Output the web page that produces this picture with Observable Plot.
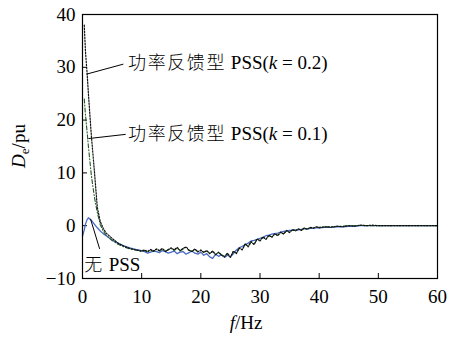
<!DOCTYPE html>
<html><head><meta charset="utf-8">
<script src="https://cdn.jsdelivr.net/npm/d3@7"></script>
<script src="https://cdn.jsdelivr.net/npm/@observablehq/plot@0.6"></script>
<style>body{margin:0;background:#fff}</style>
</head><body><div id="chart"></div>
<script>
const freq = [0,0.3,0.5,0.8,1,1.5,2,2.5,3,3.5,4,5,6,7,8,9,
10,10.5,11,11.5,12,12.5,13,13.5,14,14.5,15,15.5,16,16.5,17,17.5,18,18.5,19,19.5,
20,20.5,21,21.5,22,22.5,23,23.5,24,24.5,25,25.5,26,26.5,27,27.5,28,28.5,29,29.5,
30,30.5,31,31.5,32,32.5,33,33.5,34,34.5,35,35.5,36,36.5,37,37.5,38,38.5,39,39.5,
40,41,42,43,44,45,46,47,48,49,50,51,52,53,54,55,56,57,58,59,60];
const noPSS = [-2.0,-0.8,0.3,1.2,1.5,1.0,0.3,-0.4,-1.0,-1.5,-1.9,-2.7,-3.3,-3.8,-4.2,-4.5,
-4.7,-4.9,-5.2,-5.0,-4.8,-4.9,-5.1,-4.7,-4.9,-5.2,-5.0,-4.8,-5.3,-5.0,-4.9,-5.4,-5.1,-4.8,-5.2,-5.4,
-5.0,-5.6,-5.3,-5.9,-6.2,-5.4,-5.8,-5.5,-6.0,-5.6,-5.9,-5.3,-4.6,-4.2,-3.9,-3.6,-3.3,-2.9,-2.8,-2.6,
-2.4,-2.2,-1.9,-1.8,-1.6,-1.5,-1.4,-1.2,-1.1,-1.0,-0.9,-0.9,-0.8,-0.8,-0.7,-0.6,-0.6,-0.5,-0.5,-0.4,
-0.4,-0.3,-0.3,-0.2,-0.2,-0.1,-0.1,0,0,0,0,0,0,0,0,0,0,0,0,0,0];
const pssK01 = [null,24,21,17.5,15,9.5,5.5,2.5,0.2,-1.0,-1.8,-2.8,-3.5,-4.0,-4.4,-4.6,
-4.9,-4.7,-5.0,-4.6,-4.9,-4.5,-4.8,-4.4,-4.8,-4.6,-4.3,-4.7,-4.2,-4.8,-4.4,-4.1,-4.7,-4.8,-4.5,-4.9,
-4.7,-5.0,-4.8,-5.2,-4.9,-5.4,-5.1,-5.5,-5.8,-5.3,-5.9,-4.9,-5.2,-4.3,-4.5,-3.5,-3.9,-3.1,-3.5,-2.6,
-2.8,-2.2,-2.5,-1.9,-2.1,-1.6,-1.8,-1.3,-1.5,-1.0,-1.2,-0.8,-0.9,-0.7,-0.8,-0.5,-0.6,-0.4,-0.4,-0.3,
-0.3,-0.2,-0.2,-0.1,-0.1,0,0,0.1,0,0,0,0,0,0,0,0,0,0,0,0,0];
const pssK02 = [null,38,33,28.5,25,17,10.5,3.5,0.8,-0.5,-1.4,-2.4,-3.3,-3.9,-4.3,-4.6,
-4.8,-4.6,-4.9,-4.5,-4.8,-4.4,-4.7,-4.3,-4.9,-4.5,-4.2,-4.6,-4.1,-4.7,-4.3,-4.0,-4.6,-4.9,-4.4,-5.0,
-4.6,-5.1,-4.7,-5.3,-4.8,-5.5,-5.0,-5.6,-5.9,-5.2,-6.0,-4.8,-5.3,-4.2,-4.6,-3.4,-4.0,-3.0,-3.6,-2.5,
-2.9,-2.1,-2.6,-1.8,-2.2,-1.5,-1.9,-1.2,-1.6,-0.9,-1.3,-0.7,-1.0,-0.6,-0.9,-0.4,-0.7,-0.3,-0.5,-0.2,
-0.4,-0.2,-0.3,-0.1,-0.2,0,-0.1,0.1,0,0.1,0,0,0,0,0,0,0,0,0,0,0];
const xTicks = [0,10,20,30,40,50,60];
const yTicks = [-10,0,10,20,30,40];
const annLabels = ["功率反馈型 PSS(k = 0.2)", "功率反馈型 PSS(k = 0.1)", "无 PSS"];
const annTextX = [7.7, 7.7, 0.3];
const annTextY = [30.9, 17.4, -7.5];
const annFromX = [0.68, 1.0, 1.35];
const annFromY = [28.7, 16.5, 1.3];
const annToX = [6.9, 7.3, 2.9];
const annToY = [30.6, 17.3, -4.4];

const rows = (vals) => freq.map((f, i) => ({f, v: vals[i]})).filter(d => d.v !== null);
const ann = annLabels.map((t, i) => ({t, tx: annTextX[i], ty: annTextY[i], x1: annFromX[i], y1: annFromY[i], x2: annToX[i], y2: annToY[i]}));

const latin = "'Liberation Serif', serif";
const cjk = "'Noto Sans CJK SC', sans-serif";
const font = "'Liberation Serif','Noto Sans CJK SC',serif";
const plot = Plot.plot({
  width: 449, height: 338,
  marginLeft: 82, marginRight: 12, marginTop: 14, marginBottom: 60,
  style: {fontFamily: font, fontSize: "18px", color: "black", background: "white"},
  x: {domain: [0, 60]},
  y: {domain: [-10, 40]},
  marks: [
    Plot.axisX({ticks: xTicks, tickSize: -5, tickPadding: 16, label: null, fontSize: 19}),
    Plot.axisY({ticks: yTicks, tickSize: -5, tickPadding: 12, label: null, fontSize: 19, tickFormat: d => d < 0 ? "\u2212" + Math.abs(d) : String(d)}),
    Plot.line(rows(noPSS), {x: "f", y: "v", stroke: "#4a6ac8", strokeWidth: 1.3}),
    Plot.line(rows(pssK01), {x: "f", y: "v", stroke: "#1f5a1f", strokeWidth: 1.1, strokeDasharray: "4,2,1,2"}),
    Plot.line(rows(pssK02), {x: "f", y: "v", stroke: "#111", strokeWidth: 1.2, strokeDasharray: "1.5,1.5"}),
    Plot.link(ann, {x1: "x1", y1: "y1", x2: "x2", y2: "y2", stroke: "black", strokeWidth: 1}),
    Plot.text(ann, {x: "tx", y: "ty", text: "t", textAnchor: "start", fontSize: 19, fontFamily: latin, fill: "black"}),
    Plot.frame({stroke: "black", strokeWidth: 1.2})
  ]
});
const svg = d3.select(plot);
// Chinese portion spaced, italic k in annotation labels
svg.selectAll("text").each(function() {
  const el = d3.select(this);
  const txt = el.text();
  const m = txt.match(/^([\u4e00-\u9fff]+)( PSS)(?:\(k( = [0-9.]+\)))?$/);
  if (m) {
    el.text(null);
    el.append("tspan").attr("font-family", cjk).attr("font-size", 18).attr("letter-spacing", "1.6px").attr("font-weight", 300).text(m[1]);
    el.append("tspan").attr("font-family", latin).text(m[2] + (m[3] ? "(" : ""));
    if (m[3]) {
      el.append("tspan").attr("font-family", latin).attr("font-style", "italic").text("k");
      el.append("tspan").attr("font-family", latin).text(m[3]);
    }
  }
});
// axis labels
const xl = svg.append("text").attr("x", 246).attr("y", 329).attr("text-anchor", "middle")
  .attr("font-family", latin).attr("font-size", 19).attr("fill", "black");
xl.append("tspan").attr("font-style", "italic").text("f");
xl.append("tspan").text("/Hz");
const yl = svg.append("text").attr("transform", "translate(25,146) rotate(-90)").attr("text-anchor", "middle")
  .attr("font-family", latin).attr("font-size", 19).attr("fill", "black");
yl.append("tspan").attr("font-style", "italic").text("D");
yl.append("tspan").attr("font-size", 13).attr("dy", 4).text("e");
yl.append("tspan").attr("dy", -4).text("/pu");
document.getElementById("chart").appendChild(plot);
</script></body></html>
